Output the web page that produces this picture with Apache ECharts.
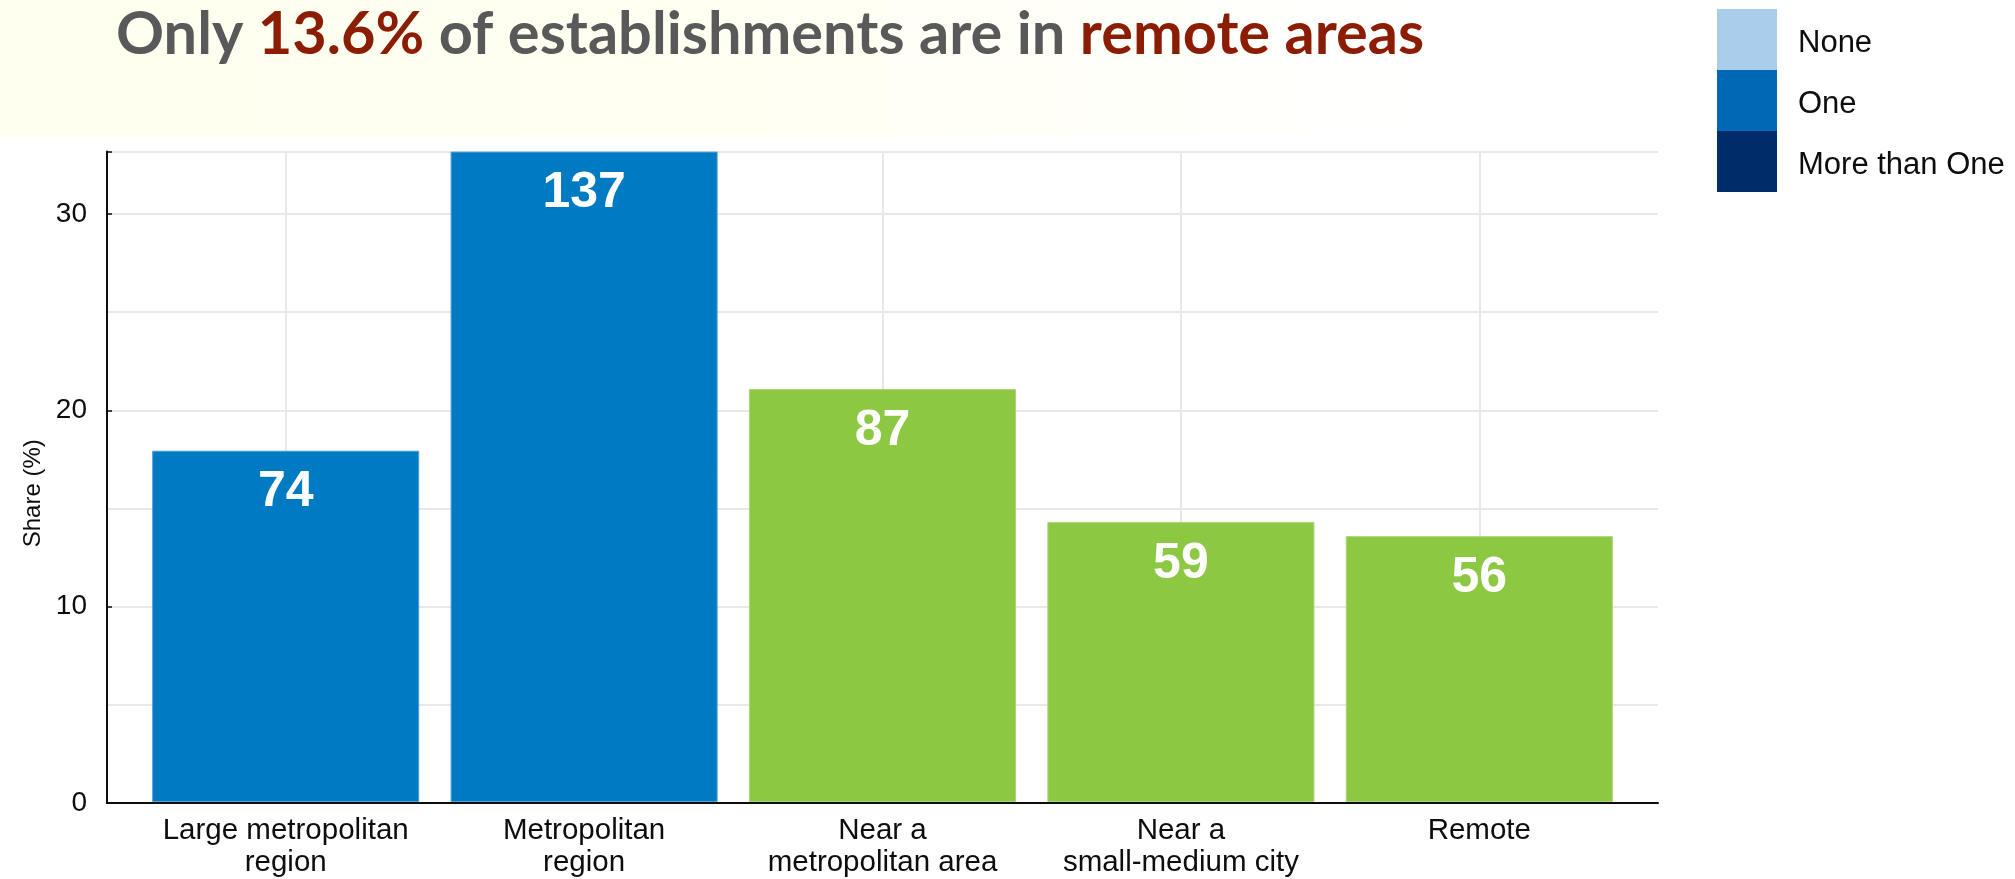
<!DOCTYPE html>
<html>
<head>
<meta charset="utf-8">
<title>Establishments by remoteness</title>
<script src="https://cdn.jsdelivr.net/npm/echarts@6/dist/echarts.min.js"></script>
<style>
  html, body { margin: 0; padding: 0; background: #ffffff; }
  #chart { width: 2015px; height: 879px; }
</style>
</head>
<body>
<div id="chart"></div>
<script>
// Region types along the x axis
const categories = [
  'Large metropolitan\nregion',
  'Metropolitan\nregion',
  'Near a\nmetropolitan area',
  'Near a\nsmall-medium city',
  'Remote'
];
// Number of establishments in each region type
const counts = [74, 137, 87, 59, 56];
// Bar fill per region type (metropolitan vs. non-metropolitan)
const barColors = ['#007ac2', '#007ac2', '#8dc843', '#8dc843', '#8dc843'];
const barEdges = ['#4f9fd6', '#4f9fd6', '#a8d57a', '#a8d57a', '#a8d57a'];
// Legend entries
const legendNames = ['None', 'One', 'More than One'];
const legendColors = ['#abcdec', '#0068b5', '#002d6a'];

const total = counts.reduce((a, b) => a + b, 0);
const shares = counts.map(c => c / total * 100);
const yMax = Math.max(...shares);

const chart = echarts.init(document.getElementById('chart'), null, { renderer: 'canvas' });

const axisFont = '"Liberation Sans", Arial, Helvetica, sans-serif';
const ink = '#0d0d0d';

chart.setOption({
  animation: false,
  backgroundColor: '#ffffff',
  graphic: [{
    type: 'rect',
    z: -10,
    silent: true,
    shape: { x: 0, y: 0, width: 1450, height: 137 },
    style: {
      fill: new echarts.graphic.LinearGradient(0, 0, 1, 0, [
        { offset: 0, color: '#fffff0' },
        { offset: 0.5, color: '#fffff2' },
        { offset: 1, color: '#ffffff' }
      ])
    }
  }],
  title: {
    left: 111,
    top: 0,
    text: '{g|Only }{r|13.6%}{g| of establishments are in }{r|remote areas}',
    textStyle: {
      rich: {
        g: { fontFamily: 'Lato', fontWeight: 'bold', fontSize: 59.5, color: '#595959' },
        r: { fontFamily: 'Lato', fontWeight: 'bold', fontSize: 59.5, color: '#8a1d03' }
      }
    }
  },
  legend: {
    orient: 'vertical',
    left: 1712,
    top: 4,
    itemWidth: 60,
    itemHeight: 61,
    itemGap: 0,
    selectedMode: false,
    formatter: name => '{t|' + name + '}',
    textStyle: {
      rich: {
        t: {
          fontFamily: axisFont,
          fontSize: 31,
          color: ink,
          padding: [7, 0, 0, 16]
        }
      }
    },
    data: legendNames.map((n, i) => ({
      name: n,
      icon: 'rect',
      itemStyle: { color: legendColors[i], borderWidth: 0 }
    }))
  },
  // grid 0 holds the bars, grid 1 the full-width frame and value scale
  grid: [{
    left: 136.5,
    right: 386.5,
    top: 151.6,
    bottom: 76
  }, {
    left: 107,
    right: 357,
    top: 151.6,
    bottom: 76
  }],
  xAxis: [{
    type: 'category',
    gridIndex: 0,
    data: categories,
    boundaryGap: true,
    axisLine: { show: false },
    axisTick: { show: true, interval: 0, inside: true, length: 5, alignWithLabel: true, lineStyle: { color: ink, width: 1.5 } },
    splitLine: { show: true, interval: 0, alignWithLabel: true, lineStyle: { color: '#e8e8e8', width: 2 } },
    axisLabel: {
      interval: 0,
      margin: 13,
      fontFamily: axisFont,
      fontSize: 29.5,
      lineHeight: 32,
      color: ink
    }
  }, {
    type: 'value',
    gridIndex: 1,
    min: 0,
    max: 1,
    axisLine: { show: true, lineStyle: { color: ink, width: 2 } },
    axisTick: { show: false },
    axisLabel: { show: false },
    splitLine: { show: false }
  }],
  yAxis: [{
    type: 'value',
    gridIndex: 0,
    min: 0,
    max: yMax,
    show: false,
    splitLine: { show: false }
  }, {
    type: 'value',
    gridIndex: 1,
    min: 0,
    max: yMax,
    interval: 10,
    name: 'Share (%)',
    nameLocation: 'middle',
    nameGap: 62,
    nameTextStyle: {
      fontFamily: axisFont,
      fontSize: 24,
      color: ink,
      padding: [0, 32, 0, 0]
    },
    axisLine: { show: true, lineStyle: { color: ink, width: 2 } },
    axisTick: { show: true, inside: true, length: 5, lineStyle: { color: ink, width: 1.5 } },
    splitLine: { show: false },
    axisLabel: {
      margin: 20,
      fontFamily: axisFont,
      fontSize: 28,
      color: ink,
      formatter: v => (Math.abs(v % 10) < 1e-9 ? String(v) : '')
    }
  }, {
    type: 'value',
    gridIndex: 1,
    min: 0,
    max: yMax,
    interval: 5,
    position: 'left',
    axisLine: { show: false },
    axisTick: { show: false },
    axisLabel: { show: false },
    splitLine: { show: true, lineStyle: { color: '#e8e8e8', width: 2 } }
  }],
  series: [{
    type: 'bar',
    xAxisIndex: 0,
    yAxisIndex: 0,
    barCategoryGap: '10.5%',
    data: shares.map((s, i) => ({
      value: s,
      itemStyle: { color: barColors[i], borderColor: barEdges[i], borderWidth: 1 }
    })),
    label: {
      show: true,
      position: 'insideTop',
      distance: 17,
      fontFamily: axisFont,
      fontWeight: 'bold',
      fontSize: 50,
      color: '#ffffff',
      formatter: p => String(counts[p.dataIndex])
    }
  }].concat(legendNames.map(n => ({
    type: 'line', name: n, xAxisIndex: 0, yAxisIndex: 0, data: []
  })))
});
</script>
</body>
</html>
